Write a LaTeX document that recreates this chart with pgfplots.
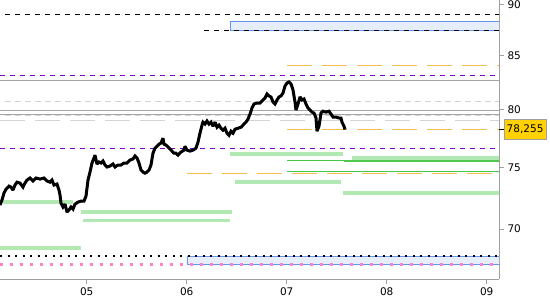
\documentclass[border=0pt]{standalone}
\usepackage{pgfplots}
\pgfplotsset{compat=1.18}
\usepackage{fontspec}
\setmainfont{DejaVu Sans}
\definecolor{axisgray}{RGB}{160,160,160}
\definecolor{solgray}{RGB}{165,165,165}
\definecolor{ltgray}{RGB}{212,212,212}
\definecolor{purp}{RGB}{125,0,205}
\definecolor{orng}{RGB}{245,190,80}
\definecolor{ltgreen}{RGB}{178,232,178}
\definecolor{mdgreen}{RGB}{80,200,80}
\definecolor{thgreen}{RGB}{70,200,70}
\definecolor{pinkd}{RGB}{255,130,200}
\definecolor{blueb}{RGB}{100,150,240}
\definecolor{bluef}{RGB}{230,238,252}
\definecolor{goldy}{RGB}{255,210,0}
\begin{document}
\begin{tikzpicture}
\begin{axis}[
  scale only axis, width=499bp, height=279bp,
  at={(0,0)}, anchor=south west,
  xmin=4.133, xmax=9.123,
  ymode=log, ymin=66.18, ymax=90.5,
  axis x line*=bottom, axis y line*=right,
  axis line style={draw=axisgray, line width=0.8bp},
  xtick={5,6,7,8,9}, xticklabels={05,06,07,08,09},
  ytick={70,75,80,85,90}, yticklabels={70,75,80,85,90},
  tick align=outside,
  major tick length=5bp,
  tick style={axisgray, line width=0.8bp},
  /pgf/number format/assume math mode=true,
  ticklabel style={font=\fontsize{10.5bp}{12bp}\selectfont, text=black},
  extra y ticks={78.255}, extra y tick labels={78{,}255},
  extra y tick style={tick style={black}, yticklabel style={fill=goldy, draw=axisgray, inner xsep=2.5bp, minimum height=20bp}},
  clip=true,
]
% rectangles
\addplot[draw=blueb, fill=bluef, line width=0.8bp] coordinates {(6.433,87.50) (9.2,87.50) (9.2,88.36) (6.433,88.36)} --cycle;
\addplot[draw=blueb, fill=bluef, line width=0.8bp] coordinates {(6.003,67.27) (9.2,67.27) (9.2,67.90) (6.003,67.90)} --cycle;
% light green bars
\addplot[ltgreen, line width=4bp] coordinates {(6.433,76.14) (7.563,76.14)};
\addplot[ltgreen, line width=4bp] coordinates {(7.653,75.77) (9.2,75.77)};
\addplot[ltgreen, line width=4bp] coordinates {(6.483,73.80) (7.543,73.80)};
\addplot[ltgreen, line width=4bp] coordinates {(7.563,72.85) (9.2,72.85)};
\addplot[ltgreen, line width=4bp] coordinates {(4.163,72.12) (4.863,72.12)};
\addplot[ltgreen, line width=4bp] coordinates {(4.943,71.36) (6.453,71.36)};
\addplot[ltgreen, line width=3bp] coordinates {(4.963,70.68) (6.433,70.68)};
\addplot[ltgreen, line width=4bp] coordinates {(4.0,68.54) (4.943,68.54)};
% green lines
\addplot[thgreen, line width=0.8bp] coordinates {(7.003,75.62) (7.573,75.62)};
\addplot[mdgreen, line width=2.5bp] coordinates {(7.573,75.56) (9.2,75.56)};
\addplot[thgreen, line width=0.8bp] coordinates {(7.003,74.67) (9.2,74.67)};
% black dashed
\addplot[black, line width=0.8bp, dash pattern=on 4.5bp off 5.5bp] coordinates {(4.183,89.06) (9.2,89.06)};
\addplot[black, line width=0.8bp, dash pattern=on 4.5bp off 5.5bp] coordinates {(6.173,87.50) (9.2,87.50)};
% orange dashed
\addplot[orng, line width=0.8bp, dash pattern=on 24.7bp off 10.3bp] coordinates {(7.003,84.13) (9.2,84.13)};
\addplot[orng, line width=0.8bp, dash pattern=on 24.7bp off 10.3bp] coordinates {(7.003,78.30) (9.2,78.30)};
\addplot[orng, line width=0.8bp, dash pattern=on 24.7bp off 10.3bp] coordinates {(6.003,74.50) (9.2,74.50)};
% purple dashed
\addplot[purp, line width=0.8bp, dash pattern=on 5bp off 5bp] coordinates {(4.133,83.17) (9.2,83.17)};
\addplot[purp, line width=0.8bp, dash pattern=on 5bp off 5bp] coordinates {(4.133,76.62) (9.2,76.62)};
% gray solid
\addplot[solgray, line width=0.8bp] coordinates {(4.0,82.70) (9.2,82.70)};
\addplot[solgray, line width=0.8bp] coordinates {(4.0,79.96) (9.2,79.96)};
\addplot[solgray, line width=0.8bp] coordinates {(4.0,79.60) (9.2,79.60)};
% light gray dashed
\addplot[ltgray, line width=0.8bp, dash pattern=on 6bp off 4bp] coordinates {(4.183,80.77) (9.2,80.77)};
\addplot[ltgray, line width=0.8bp, dash pattern=on 6bp off 4bp] coordinates {(4.183,79.48) (9.2,79.48)};
\addplot[ltgray, line width=0.8bp, dash pattern=on 24.7bp off 10.3bp] coordinates {(4.133,79.07) (9.2,79.07)};
% dotted
\addplot[black, line width=2bp, dash pattern=on 2bp off 5.5bp] coordinates {(4.133,67.90) (9.2,67.90)};
\addplot[pinkd, line width=3.3bp, dash pattern=on 3.3bp off 6.7bp] coordinates {(4.133,67.27) (9.2,67.27)};
% price
\addplot[black, line width=3bp, line join=miter, miter limit=2] coordinates {
(4.133,71.90) (4.153,72.31) (4.173,72.88) (4.193,73.20) (4.223,73.45) (4.243,73.37) (4.263,73.12) (4.283,73.54)
(4.303,73.78) (4.333,73.70) (4.363,73.37) (4.383,73.70) (4.403,73.95) (4.433,74.12) (4.463,73.87) (4.493,74.12)
(4.533,74.03) (4.573,74.12) (4.603,73.87) (4.633,73.78) (4.653,73.95) (4.673,73.54) (4.703,73.62) (4.723,73.12)
(4.733,72.72) (4.743,72.06) (4.763,71.74) (4.783,71.98) (4.803,71.34) (4.823,71.50) (4.843,71.74) (4.863,71.58)
(4.883,71.98) (4.913,72.14) (4.943,72.23) (4.973,72.23) (4.993,72.63) (5.003,73.28) (5.013,73.95) (5.033,74.61)
(5.053,75.38) (5.073,75.80) (5.083,76.05) (5.103,75.29) (5.123,75.46) (5.143,75.38) (5.163,75.55) (5.183,75.21)
(5.203,75.04) (5.233,75.12) (5.263,75.29) (5.283,75.04) (5.313,75.21) (5.343,75.21) (5.373,75.38) (5.403,75.38)
(5.433,75.63) (5.463,75.72) (5.483,75.97) (5.503,75.80) (5.523,75.38) (5.543,74.78) (5.563,74.61) (5.583,74.53)
(5.603,74.61) (5.623,74.78) (5.643,75.21) (5.663,76.22) (5.683,76.65) (5.703,76.82) (5.723,77.00) (5.743,77.08)
(5.763,77.51) (5.773,77.00) (5.793,76.91) (5.813,76.74) (5.833,76.57) (5.853,76.39) (5.873,76.22) (5.893,76.22)
(5.913,76.05) (5.943,76.31) (5.973,76.48) (5.983,76.82) (6.003,76.48) (6.033,76.39) (6.063,76.48) (6.093,76.65)
(6.113,77.17) (6.133,77.95) (6.153,78.65) (6.163,78.92) (6.183,78.74) (6.203,79.01) (6.223,78.74) (6.243,78.92)
(6.263,78.56) (6.283,78.92) (6.303,78.47) (6.323,78.65) (6.343,78.38) (6.363,78.21) (6.383,78.38) (6.403,77.95)
(6.423,77.77) (6.443,78.12) (6.463,77.95) (6.483,78.29) (6.513,78.38) (6.543,78.47) (6.573,78.74) (6.593,78.92)
(6.613,79.19) (6.633,79.64) (6.653,80.17) (6.673,80.53) (6.703,80.62) (6.733,80.62) (6.763,80.89) (6.783,81.07)
(6.803,81.44) (6.823,81.26) (6.843,81.17) (6.863,80.71) (6.883,80.53) (6.903,80.89) (6.923,81.17) (6.943,81.26)
(6.963,81.53) (6.983,82.17) (7.003,82.45) (7.023,82.54) (7.043,82.36) (7.063,81.81) (7.083,80.71) (7.093,79.99)
(7.113,80.53) (7.133,81.17) (7.153,80.89) (7.173,80.98) (7.193,80.53) (7.213,80.17) (7.233,79.99) (7.253,79.81)
(7.273,79.72) (7.293,79.28) (7.303,78.12) (7.323,78.56) (7.343,79.72) (7.363,79.90) (7.393,79.81) (7.423,79.90)
(7.443,79.64) (7.463,79.37) (7.493,79.37) (7.523,79.28) (7.543,79.28) (7.553,78.92) (7.573,78.56) (7.583,78.255)
};
\end{axis}
\pgfresetboundingbox
\path[use as bounding box] (0,-21bp) rectangle (550bp,279bp);
\end{tikzpicture}
\end{document}
